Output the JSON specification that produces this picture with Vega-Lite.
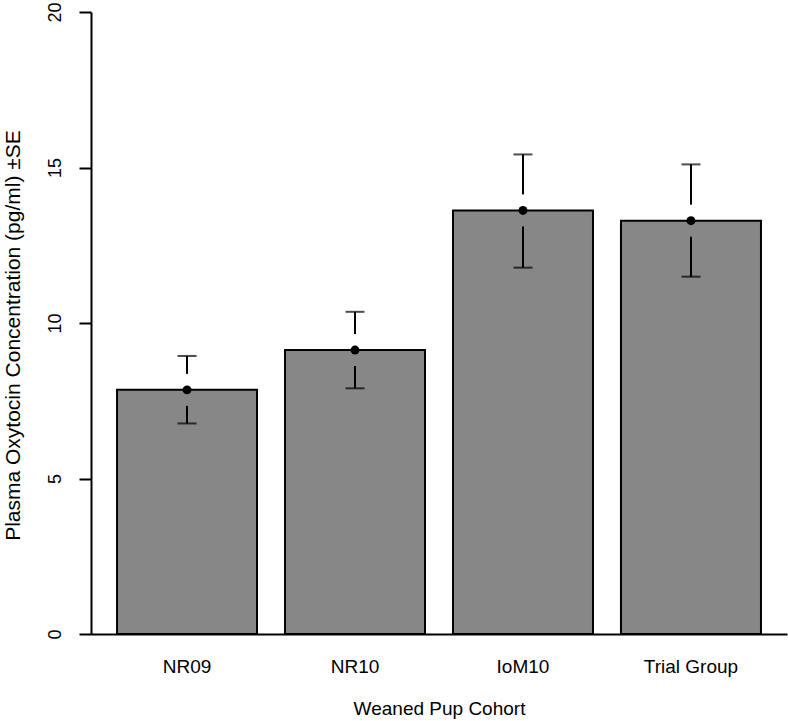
{
  "$schema": "https://vega.github.io/schema/vega-lite/v6.json",
  "width": 696,
  "height": 622,
  "autosize": {"type": "none"},
  "padding": {"left": 91, "top": 12, "right": 1, "bottom": 87},
  "background": "white",
  "config": {"view": {"stroke": null}, "font": "Liberation Sans"},
  "data": {
    "values": [
      {"cohort": "NR09", "mean": 7.85, "lower": 6.77, "upper": 8.94},
      {"cohort": "NR10", "mean": 9.13, "lower": 7.90, "upper": 10.36},
      {"cohort": "IoM10", "mean": 13.62, "lower": 11.78, "upper": 15.42},
      {"cohort": "Trial Group", "mean": 13.29, "lower": 11.49, "upper": 15.10}
    ]
  },
  "encoding": {
    "x": {
      "field": "cohort",
      "type": "nominal",
      "sort": null,
      "scale": {"paddingInner": 0.1667, "paddingOuter": 0.155},
      "axis": {
        "title": "Weaned Pup Cohort",
        "labelAngle": 0,
        "ticks": false,
        "tickSize": 0,
        "labelPadding": 38.7,
        "labelBaseline": "alphabetic",
        "labelFontSize": 19,
        "labelColor": "black",
        "domainColor": "black",
        "domainWidth": 2,
        "titleFontSize": 19,
        "titleFontWeight": "normal",
        "titleColor": "black",
        "titleY": 80,
        "titleBaseline": "alphabetic"
      }
    }
  },
  "layer": [
    {
      "mark": {"type": "bar", "fill": "#878787", "stroke": "black", "strokeWidth": 2},
      "encoding": {
        "y": {
          "field": "mean",
          "type": "quantitative",
          "title": "Plasma Oxytocin Concentration (pg/ml) ±SE",
          "scale": {"domain": [0, 20], "nice": false},
          "axis": {
            "values": [0, 5, 10, 15, 20],
            "grid": false,
            "tickSize": 12,
            "tickWidth": 2,
            "tickColor": "black",
            "domainColor": "black",
            "domainWidth": 2,
            "labelAngle": -90,
            "labelAlign": "center",
            "labelBaseline": "alphabetic",
            "labelPadding": 19,
            "labelFontSize": 18,
            "labelColor": "black",
            "labelFlush": false,
            "titleFontSize": 21,
            "titleFontWeight": "normal",
            "titleColor": "black",
            "titleAngle": -90,
            "titleX": -78,
            "titleY": 323,
            "titleAlign": "center",
            "titleBaseline": "middle"
          }
        }
      }
    },
    {
      "mark": {"type": "rule", "color": "black", "strokeWidth": 2, "y2Offset": -16},
      "encoding": {
        "y": {"field": "upper", "type": "quantitative", "title": "Plasma Oxytocin Concentration (pg/ml) ±SE"},
        "y2": {"field": "mean"}
      }
    },
    {
      "mark": {"type": "rule", "color": "black", "strokeWidth": 2, "yOffset": 16},
      "encoding": {
        "y": {"field": "mean", "type": "quantitative", "title": "Plasma Oxytocin Concentration (pg/ml) ±SE"},
        "y2": {"field": "lower"}
      }
    },
    {
      "mark": {"type": "tick", "color": "black", "size": 19, "thickness": 2},
      "encoding": {
        "y": {"field": "upper", "type": "quantitative", "title": "Plasma Oxytocin Concentration (pg/ml) ±SE"}
      }
    },
    {
      "mark": {"type": "tick", "color": "black", "size": 19, "thickness": 2},
      "encoding": {
        "y": {"field": "lower", "type": "quantitative", "title": "Plasma Oxytocin Concentration (pg/ml) ±SE"}
      }
    },
    {
      "mark": {"type": "point", "filled": true, "color": "black", "opacity": 1, "size": 80},
      "encoding": {
        "y": {"field": "mean", "type": "quantitative", "title": "Plasma Oxytocin Concentration (pg/ml) ±SE"}
      }
    }
  ]
}
